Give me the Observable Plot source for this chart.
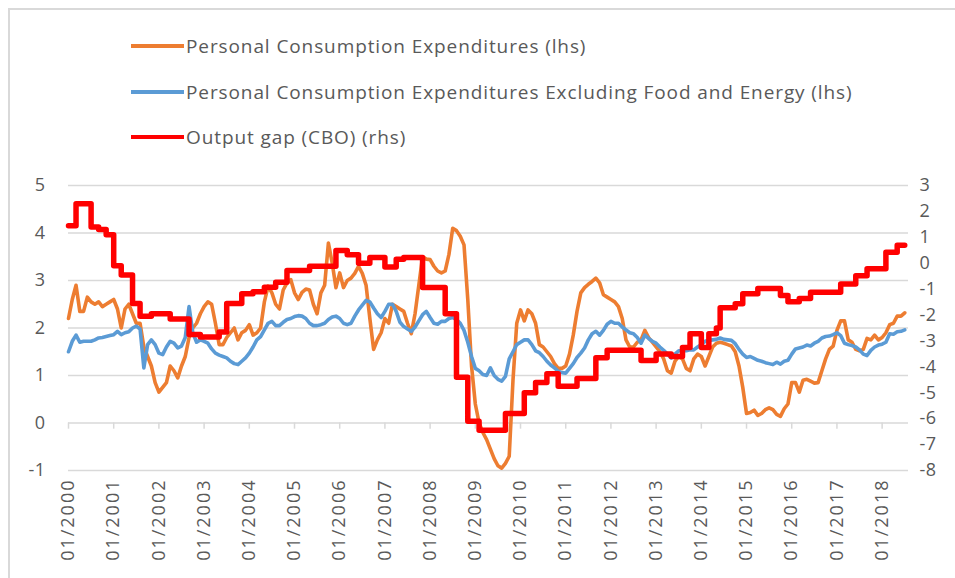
<!DOCTYPE html>
<html><head><meta charset="utf-8">
<script src="https://cdn.jsdelivr.net/npm/d3@7"></script>
<script src="https://cdn.jsdelivr.net/npm/@observablehq/plot@0.6"></script>
<style>
html,body{margin:0;padding:0;background:#fff;}
#wrap{position:relative;width:955px;height:578px;overflow:hidden;font-family:"Open Sans",sans-serif;color:#595959;background:#fff;}
#frame{position:absolute;left:8px;top:8px;width:1000px;height:1000px;border-left:2px solid #d9d9d9;border-top:2px solid #d9d9d9;box-sizing:border-box;}
#legend{position:absolute;left:0;top:0;width:955px;height:165px;}
.item{position:absolute;left:131px;height:26px;display:flex;align-items:center;font-size:19px;letter-spacing:0.9px;white-space:nowrap;color:#595959;}
.sw{width:53px;height:4px;margin-right:2px;}
#chart{position:absolute;left:0;top:165px;}
#chart svg text{letter-spacing:0.5px;}
#chart svg g[aria-label="x-axis tick label"] text{letter-spacing:2px;}
</style></head>
<body>
<div id="wrap">
  <div id="frame"></div>
  <div id="legend"></div>
  <div id="chart"></div>
</div>
<script>
// ---- Series (monthly, Jan 2000 .. Jul 2018), % y/y ----
const pce = [
  // 2000
  2.2, 2.6, 2.9, 2.35, 2.35, 2.65, 2.55, 2.5, 2.55, 2.45, 2.5, 2.55,
  // 2001
  2.6, 2.4, 2.0, 2.4, 2.5, 2.3, 2.1, 2.1, 1.6, 1.4, 1.2, 0.85,
  // 2002
  0.65, 0.75, 0.85, 1.2, 1.1, 0.95, 1.2, 1.4, 1.8, 2.0, 2.1, 2.3,
  // 2003
  2.45, 2.55, 2.5, 2.1, 1.65, 1.65, 1.8, 1.9, 2.0, 1.75, 1.9, 1.95,
  // 2004
  2.07, 1.85, 1.9, 2.0, 2.55, 2.88, 2.74, 2.5, 2.4, 2.8, 2.95, 3.02,
  // 2005
  2.74, 2.6, 2.75, 2.82, 2.8, 2.5, 2.3, 2.74, 2.9, 3.79, 3.37, 2.85,
  // 2006
  3.16, 2.85, 3.0, 3.05, 3.15, 3.3, 3.15, 2.9, 2.2, 1.55, 1.75, 1.9,
  // 2007
  2.2, 2.1, 2.5, 2.45, 2.4, 2.35, 2.1, 1.88, 2.3, 2.9, 3.5, 3.45,
  // 2008
  3.44, 3.3, 3.2, 3.16, 3.2, 3.55, 4.1, 4.05, 3.93, 3.75, 2.6, 1.2,
  // 2009
  0.4, 0.0, -0.2, -0.35, -0.55, -0.75, -0.9, -0.95, -0.85, -0.7, 0.9, 2.1,
  // 2010
  2.38, 2.15, 2.38, 2.3, 2.1, 1.65, 1.6, 1.5, 1.4, 1.25, 1.15, 1.15,
  // 2011
  1.2, 1.45, 1.85, 2.35, 2.74, 2.85, 2.92, 2.98, 3.05, 2.95, 2.7, 2.65,
  // 2012
  2.6, 2.55, 2.45, 2.2, 1.75, 1.6, 1.6, 1.7, 1.75, 1.95, 1.8, 1.7,
  // 2013
  1.6, 1.5, 1.35, 1.1, 1.05, 1.3, 1.4, 1.35, 1.15, 1.1, 1.35, 1.45,
  // 2014
  1.4, 1.2, 1.4, 1.6, 1.68, 1.7, 1.68, 1.65, 1.62, 1.5, 1.2, 0.75,
  // 2015
  0.2, 0.22, 0.27, 0.16, 0.2, 0.28, 0.32, 0.28, 0.18, 0.14, 0.3, 0.4,
  // 2016
  0.85, 0.85, 0.65, 0.9, 0.92, 0.88, 0.84, 0.85, 1.1, 1.35, 1.55, 1.62,
  // 2017
  1.95, 2.15, 2.15, 1.75, 1.7, 1.55, 1.52, 1.55, 1.78, 1.75, 1.85, 1.75,
  // 2018
  1.8, 1.9, 2.07, 2.1, 2.25, 2.25, 2.32
];
const pceCore = [
  // 2000
  1.5, 1.72, 1.85, 1.7, 1.72, 1.72, 1.72, 1.75, 1.79, 1.8, 1.82, 1.84,
  // 2001
  1.86, 1.93, 1.86, 1.9, 1.92, 2.0, 2.04, 1.98, 1.16, 1.65, 1.75, 1.65,
  // 2002
  1.47, 1.44, 1.6, 1.72, 1.68, 1.58, 1.62, 1.8, 2.45, 1.9, 1.7, 1.75,
  // 2003
  1.72, 1.68, 1.56, 1.47, 1.43, 1.4, 1.37, 1.3, 1.25, 1.23, 1.3, 1.37,
  // 2004
  1.47, 1.6, 1.75, 1.82, 1.96, 2.1, 2.14, 2.05, 2.05, 2.12, 2.18, 2.2,
  // 2005
  2.24, 2.26, 2.25, 2.2, 2.1, 2.05, 2.05, 2.07, 2.1, 2.18, 2.23, 2.25,
  // 2006
  2.2, 2.1, 2.07, 2.1, 2.25, 2.38, 2.48, 2.58, 2.55, 2.42, 2.3, 2.22,
  // 2007
  2.35, 2.5, 2.5, 2.35, 2.12, 2.03, 1.98, 1.93, 2.02, 2.15, 2.28, 2.35,
  // 2008
  2.22, 2.1, 2.08, 2.14, 2.14, 2.2, 2.22, 2.18, 2.1, 1.95, 1.7, 1.4,
  // 2009
  1.15, 1.1, 1.02, 1.0, 1.16, 1.0, 0.92, 0.88, 0.98, 1.35, 1.5, 1.65,
  // 2010
  1.7, 1.75, 1.75, 1.65, 1.52, 1.48, 1.4, 1.3, 1.22, 1.16, 1.09, 1.06,
  // 2011
  1.05, 1.15, 1.25, 1.38, 1.47, 1.58, 1.75, 1.88, 1.93, 1.85, 1.95, 2.08,
  // 2012
  2.14, 2.1, 2.1, 2.02, 1.96, 1.9, 1.88, 1.8, 1.68, 1.85, 1.78, 1.72,
  // 2013
  1.68, 1.6, 1.53, 1.45, 1.37, 1.45, 1.52, 1.52, 1.52, 1.54, 1.54, 1.6,
  // 2014
  1.65, 1.72, 1.74, 1.75, 1.76, 1.79, 1.76, 1.75, 1.74, 1.67, 1.55, 1.45,
  // 2015
  1.38, 1.4, 1.36, 1.32, 1.3, 1.27, 1.25, 1.23, 1.28, 1.24, 1.3, 1.32,
  // 2016
  1.45, 1.56, 1.58, 1.6, 1.64, 1.62, 1.68, 1.72, 1.79, 1.82, 1.83, 1.86,
  // 2017
  1.9, 1.84, 1.68, 1.65, 1.63, 1.6, 1.54, 1.45, 1.42, 1.53, 1.6, 1.64,
  // 2018
  1.66, 1.7, 1.88, 1.87, 1.92, 1.93, 1.96
];
// Output gap (CBO), % of potential, right-hand scale: value changes (month index from Jan 2000 -> value)
const gapMonth = [0, 2, 6, 8, 10, 12, 14, 17, 19, 22, 27, 32, 35, 40, 42, 46, 49, 52, 55, 58, 64, 71, 74, 77, 80, 84, 87, 89, 94, 100, 103, 106, 109, 116, 121, 124, 127, 130, 135, 140, 143, 152, 156, 160, 163, 165, 168, 170, 172, 173, 177, 179, 183, 189, 191, 194, 197, 205, 209, 212, 217, 220, 222];
const gapValue = [1.45, 2.3, 1.4, 1.3, 1.1, -0.1, -0.45, -1.55, -2.05, -1.95, -2.15, -2.75, -2.85, -2.65, -1.55, -1.18, -1.1, -0.93, -0.73, -0.28, -0.12, 0.49, 0.33, 0.0, 0.22, -0.15, 0.15, 0.22, -0.94, -1.95, -4.4, -6.1, -6.45, -5.8, -5.0, -4.6, -4.27, -4.75, -4.45, -3.65, -3.36, -3.75, -3.5, -3.6, -3.25, -2.72, -3.25, -2.72, -2.5, -1.72, -1.56, -1.18, -0.98, -1.25, -1.49, -1.36, -1.12, -0.8, -0.48, -0.21, 0.42, 0.69, 0.69];

// ---- Axes ----
const leftTicks = [-1, 0, 1, 2, 3, 4, 5];
const leftLabels = ["-1", "0", "1", "2", "3", "4", "5"];
const rightTicks = [-8, -7, -6, -5, -4, -3, -2, -1, 0, 1, 2, 3];
const rightLabels = ["-8", "-7", "-6", "-5", "-4", "-3", "-2", "-1", "0", "1", "2", "3"];
const xTickMonths = [0, 12, 24, 36, 48, 60, 72, 84, 96, 108, 120, 132, 144, 156, 168, 180, 192, 204, 216];
const xTickLabels = ["01/2000","01/2001","01/2002","01/2003","01/2004","01/2005","01/2006","01/2007","01/2008","01/2009","01/2010","01/2011","01/2012","01/2013","01/2014","01/2015","01/2016","01/2017","01/2018"];

const series = [
  {name: "Personal Consumption Expenditures (lhs)", color: "#ED7D31"},
  {name: "Personal Consumption Expenditures Excluding Food and Energy (lhs)", color: "#5B9BD5"},
  {name: "Output gap (CBO) (rhs)", color: "#FF0000"}
];

// right scale (-8..3) mapped onto left scale (-1..5)
const toLeft = r => -1 + (r + 8) * 6 / 11;

// legend
const legendTops = [33, 79, 124];
const legend = document.getElementById("legend");
series.forEach((s, i) => {
  const d = document.createElement("div");
  d.className = "item";
  d.style.top = legendTops[i] + "px";
  d.innerHTML = `<span class="sw" style="background:${s.color}"></span><span>${s.name}</span>`;
  legend.appendChild(d);
});

const pceData = pce.map((v, i) => ({m: i, v}));
const coreData = pceCore.map((v, i) => ({m: i, v}));
const gapData = gapMonth.map((m, i) => ({m, v: toLeft(gapValue[i])}));
const rightPos = rightTicks.map(toLeft);
const rightMap = new Map(rightPos.map((p, i) => [p, rightLabels[i]]));
const leftMap = new Map(leftTicks.map((t, i) => [t, leftLabels[i]]));
const xMap = new Map(xTickMonths.map((t, i) => [t, xTickLabels[i]]));

const grid = "#d9d9d9";
const chart = Plot.plot({
  width: 955,
  height: 413,
  marginLeft: 68,
  marginRight: 47,
  marginTop: 20,
  marginBottom: 108,
  x: {type: "linear", domain: [0, 223]},
  y: {domain: [-1, 5]},
  style: {fontFamily: "'Open Sans', sans-serif", fontSize: "18px", color: "#595959", background: "transparent"},
  marks: [
    Plot.ruleY(leftTicks, {y: d => d, stroke: grid, strokeWidth: 1.5}),
    Plot.ruleX(xTickMonths, {x: d => d, y1: 0, y2: -0.13, stroke: grid, strokeWidth: 1.5}),
    Plot.axisY(leftTicks, {anchor: "left", label: null, tickSize: 0, tickPadding: 23, tickFormat: d => leftMap.get(d), fill: "#595959"}),
    Plot.axisY(rightPos, {anchor: "right", label: null, tickSize: 0, tickPadding: 11, tickFormat: d => rightMap.get(d), fill: "#595959"}),
    Plot.axisX(xTickMonths, {anchor: "bottom", label: null, tickSize: 0, tickPadding: 8, tickRotate: -90, tickFormat: d => xMap.get(d), fill: "#595959", fontSize: 18}),
    Plot.line(pceData, {x: "m", y: "v", stroke: series[0].color, strokeWidth: 3.6}),
    Plot.line(coreData, {x: "m", y: "v", stroke: series[1].color, strokeWidth: 3.6}),
    Plot.line(gapData, {x: "m", y: "v", stroke: series[2].color, strokeWidth: 5.5, curve: "step-after"})
  ]
});
document.getElementById("chart").appendChild(chart);
</script>
</body></html>
